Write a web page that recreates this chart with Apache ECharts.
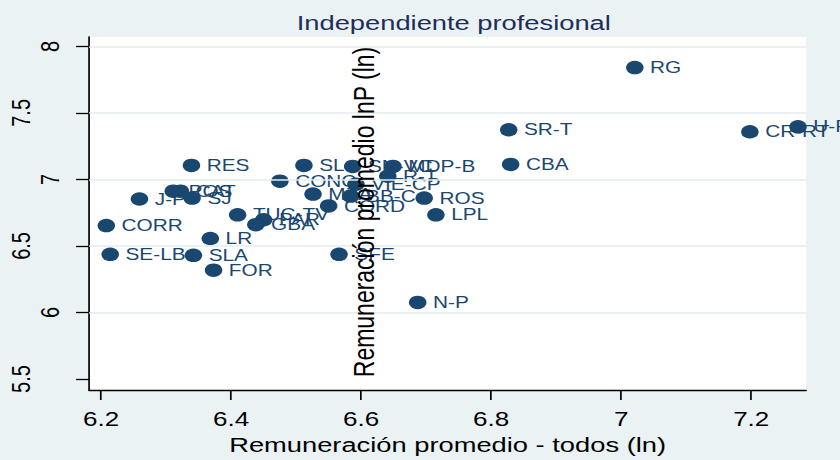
<!DOCTYPE html>
<html lang="es">
<head>
<meta charset="utf-8">
<title>Independiente profesional</title>
<style>
    html, body { margin: 0; padding: 0; background: #eaf2f3; overflow: hidden; }
    /* the source graph is stretched horizontally, so draw narrow and widen */
    #chart { width: 646px; height: 460px; transform: scaleX(1.3003); transform-origin: 0 0; }
</style>
</head>
<body>
<div id="chart"></div>
<script src="https://cdn.jsdelivr.net/npm/echarts@6/dist/echarts.min.js"></script>
<script>
    // aglomerados
    var names = ['RG', 'SR-T', 'CBA', 'CR-RT', 'U-R', 'RES', 'SL', 'CONC', 'POS', 'CAT',
                 'SJ', 'J-P', 'CORR', 'SE-LB', 'SLA', 'FOR', 'LR', 'TUC-TV', 'PAR', 'GBA',
                 'MZA', 'CORD', 'SN-VC', 'MDP-B', 'R-T', 'VIE-CP', 'BB-C', 'ROS', 'LPL', 'SFE', 'N-P'];
    // Remuneración promedio - todos (ln)
    var xVals = [7.021, 6.827, 6.830, 7.198, 7.272, 6.339, 6.512, 6.475, 6.311, 6.322,
                 6.340, 6.259, 6.208, 6.214, 6.342, 6.373, 6.368, 6.410, 6.450, 6.438,
                 6.526, 6.550, 6.587, 6.649, 6.641, 6.592, 6.584, 6.697, 6.715, 6.566, 6.687];
    // Remuneración promedio lnP (ln)
    var yVals = [7.840, 7.373, 7.113, 7.358, 7.395, 7.105, 7.105, 6.987, 6.912, 6.912,
                 6.860, 6.853, 6.653, 6.437, 6.430, 6.318, 6.556, 6.734, 6.697, 6.660,
                 6.890, 6.801, 7.098, 7.098, 7.024, 6.964, 6.875, 6.860, 6.734, 6.437, 6.076];
    var xTicks = [6.2, 6.4, 6.6, 6.8, 7, 7.2];
    var yTicks = [5.5, 6, 6.5, 7, 7.5, 8];
    var yGrid = [6, 6.5, 7, 7.5, 8];

    var navy = '#1a476f';
    var font = 'Liberation Sans';

    var points = [];
    for (var i = 0; i < names.length; i++) {
        points.push({ name: names[i], value: [xVals[i], yVals[i]] });
    }

    var myChart = echarts.init(document.getElementById('chart'), null, { renderer: 'svg' });
    var option = {
        backgroundColor: '#eaf2f3',
        animation: false,
        title: {
            text: 'Independiente profesional',
            left: 344,
            textAlign: 'center',
            top: 7,
            textStyle: { fontFamily: font, fontSize: 21, fontWeight: 'normal', color: '#1f2d5c' }
        },
        grid: {
            left: 68.5,
            right: 26,
            top: 37,
            bottom: 66,
            show: true,
            backgroundColor: '#ffffff',
            borderWidth: 0
        },
        xAxis: {
            type: 'value',
            min: 6.1815,
            max: 7.2846,
            name: 'Remuneración promedio - todos (ln)',
            nameLocation: 'middle',
            nameGap: 44,
            nameTextStyle: { fontFamily: font, fontSize: 21, color: '#000' },
            axisLine: { show: true, onZero: false, lineStyle: { color: '#000', width: 1.3 } },
            axisTick: { show: true, length: 10, customValues: xTicks, lineStyle: { color: '#000', width: 1.3 } },
            axisLabel: { customValues: xTicks, margin: 19, fontFamily: font, fontSize: 20, color: '#000' },
            splitLine: { show: false }
        },
        yAxis: {
            type: 'value',
            min: 5.418,
            max: 8.07,
            axisLine: { show: true, onZero: false, lineStyle: { color: '#000', width: 1.3 } },
            axisTick: { show: true, length: 10, customValues: yTicks, lineStyle: { color: '#000', width: 1.3 } },
            axisLabel: {
                customValues: yTicks,
                rotate: 90,
                margin: 20,
                fontFamily: font,
                fontSize: 20,
                color: '#000',
                // whole numbers sit near the axis, the .5 labels further out
                formatter: function (v) {
                    return (Math.abs(v - Math.round(v)) < 1e-6) ? '{a|' + v + '}' : '{b|' + v + '}';
                },
                rich: {
                    a: { fontFamily: font, fontSize: 20, color: '#000' },
                    b: { fontFamily: font, fontSize: 20, color: '#000', padding: [0, 0, 22, 0] }
                }
            },
            splitLine: { show: false }
        },
        graphic: [{
            type: 'text',
            x: 280,
            y: 212,
            rotation: Math.PI / 2,
            z: 100,
            style: {
                text: 'Remuneración promedio lnP (ln)',
                fontFamily: font,
                fontSize: 23,
                fill: '#000',
                align: 'center',
                verticalAlign: 'middle'
            }
        }],
        series: [
            {
                type: 'line',
                data: [],
                z: 1,
                silent: true,
                markLine: {
                    silent: true,
                    symbol: 'none',
                    label: { show: false },
                    lineStyle: { color: '#e4edef', width: 1.6, type: 'solid' },
                    data: yGrid.map(function (v) { return { yAxis: v }; })
                }
            },
            {
                type: 'scatter',
                z: 3,
                symbol: 'circle',
                symbolSize: 13.5,
                itemStyle: { color: navy, opacity: 1 },
                label: {
                    show: true,
                    position: 'right',
                    distance: 5,
                    offset: [0, 2],
                    formatter: '{b}',
                    fontFamily: font,
                    fontSize: 16,
                    color: navy
                },
                labelLayout: { hideOverlap: false },
                data: points
            }
        ]
    };
    myChart.setOption(option);
</script>
</body>
</html>
